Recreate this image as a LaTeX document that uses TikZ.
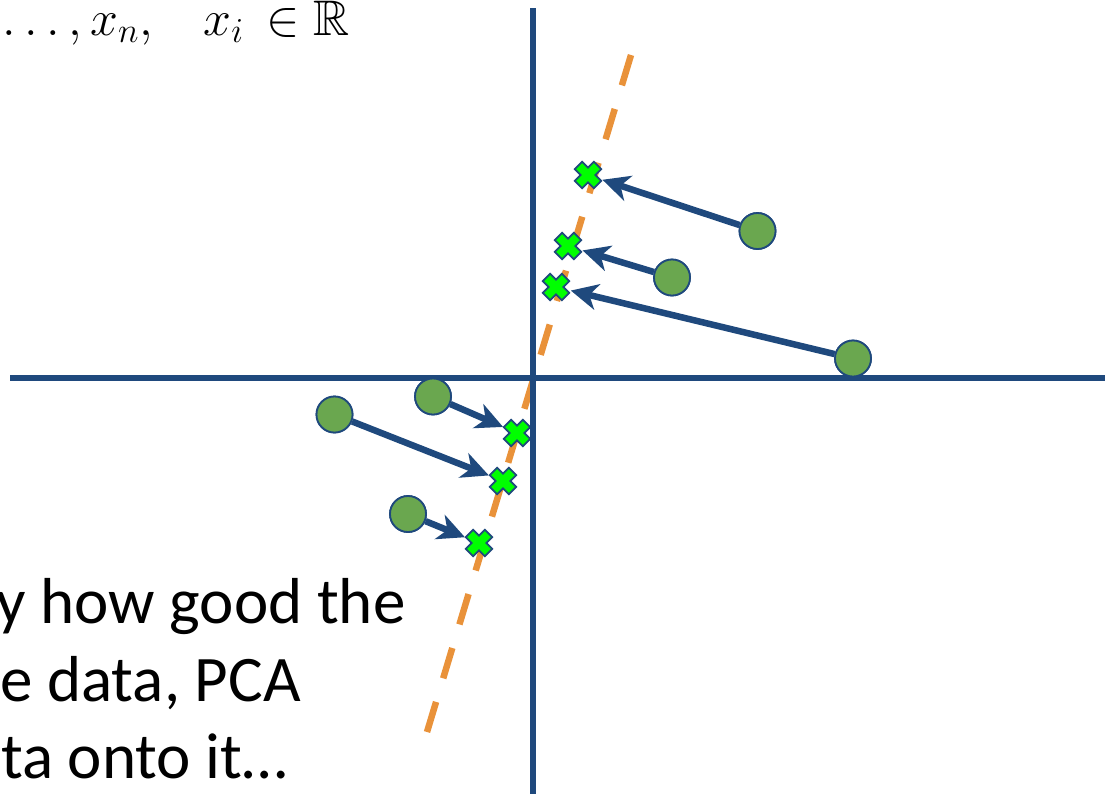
\RequirePackage{fix-cm}
\documentclass[tikz,border=0pt]{standalone}
\usepackage{amssymb}
\usepackage{fontspec}
\newfontfamily\calib{Carlito}
\usetikzlibrary{arrows.meta}
\definecolor{axisblue}{RGB}{31,73,125}
\definecolor{ptgreen}{RGB}{106,167,79}
\definecolor{xgreen}{RGB}{0,255,0}
\definecolor{pcaorange}{RGB}{233,146,58}
\tikzset{
  axis/.style={line width=6pt, draw=axisblue},
  pcaline/.style={line width=6.5pt, draw=pcaorange, dash pattern=on 31.7pt off 24.6pt},
  datapt/.style={circle, minimum size=36pt, inner sep=0pt, fill=ptgreen, draw=axisblue, line width=1.8pt},
  projpt/.style={circle, minimum size=30pt, inner sep=0pt},
  projarrow/.style={line width=6.5pt, draw=axisblue, -{Stealth[length=27pt,width=26pt,inset=8pt]}},
  xmark/.pic={\draw[line width=1.7pt, draw=axisblue, fill=xgreen, line join=miter, rotate=45]
     (5.2,13.5) -- (5.2,5.2) -- (13.5,5.2) -- (13.5,-5.2) -- (5.2,-5.2) -- (5.2,-13.5)
     -- (-5.2,-13.5) -- (-5.2,-5.2) -- (-13.5,-5.2) -- (-13.5,5.2) -- (-5.2,5.2) -- (-5.2,13.5) -- cycle;},
  mathtxt/.style={inner sep=0pt, font=\fontsize{25}{30}\selectfont, scale=2, transform shape},
  bodytxt/.style={inner sep=0pt, font=\calib\fontsize{65}{78}\selectfont}
}
\begin{document}
\begin{tikzpicture}[x=1pt,y=-1pt]
\useasboundingbox (0,0) rectangle (1105,793);
\clip (0,0) rectangle (1105,793);
% principal direction (dashed)
\coordinate (ltop) at (631,55);
\coordinate (lbot) at (427,732);
\draw[pcaline] (ltop) -- (lbot);
% axes
\coordinate (yt) at (533,8);
\coordinate (yb) at (533,800);
\coordinate (xl) at (10,377.5);
\coordinate (xr) at (1110,377.5);
\draw[axis] (yt) -- (yb);
\draw[axis] (xl) -- (xr);
% projections
\node[projpt] (x1) at (588,175) {};
\node[projpt] (x2) at (568,246) {};
\node[projpt] (x3) at (556,287) {};
\node[projpt] (x4) at (517,433) {};
\node[projpt] (x5) at (503,481) {};
\node[projpt] (x6) at (479,543) {};
% data points
\node[datapt] (c1) at (757.5,231) {};
\node[datapt] (c2) at (672,277.5) {};
\node[datapt] (c3) at (853,358.5) {};
\node[datapt] (c4) at (433,396.5) {};
\node[datapt] (c5) at (334.5,414.5) {};
\node[datapt] (c6) at (408,514) {};
% arrows
\draw[projarrow] (c1) -- (x1);
\draw[projarrow] (c2) -- (x2);
\draw[projarrow] (c3) -- (x3);
\draw[projarrow] (c4) -- (x4);
\draw[projarrow] (c5) -- (x5);
\draw[projarrow] (c6) -- (x6);
% circles on top of arrow starts
\foreach \c in {c1,c2,c3,c4,c5,c6}
  \path (\c) node[datapt] {};
\foreach \n in {x1,x2,x3,x4,x5,x6}
  \pic at (\n) {xmark};
% texts
\node[mathtxt, anchor=base east] (mt) at (350,35) {$\ldots, x_n,\hspace{21pt} x_i \,\in \mathbb{R}$};
\node[bodytxt, anchor=base west] (t1) at (-4,623) {y how good the};
\node[bodytxt, anchor=base west] (t2) at (0,701) {e data, PCA};
\node[bodytxt, anchor=base west] (t3) at (1,778) {ta onto it…};
\end{tikzpicture}
\end{document}
